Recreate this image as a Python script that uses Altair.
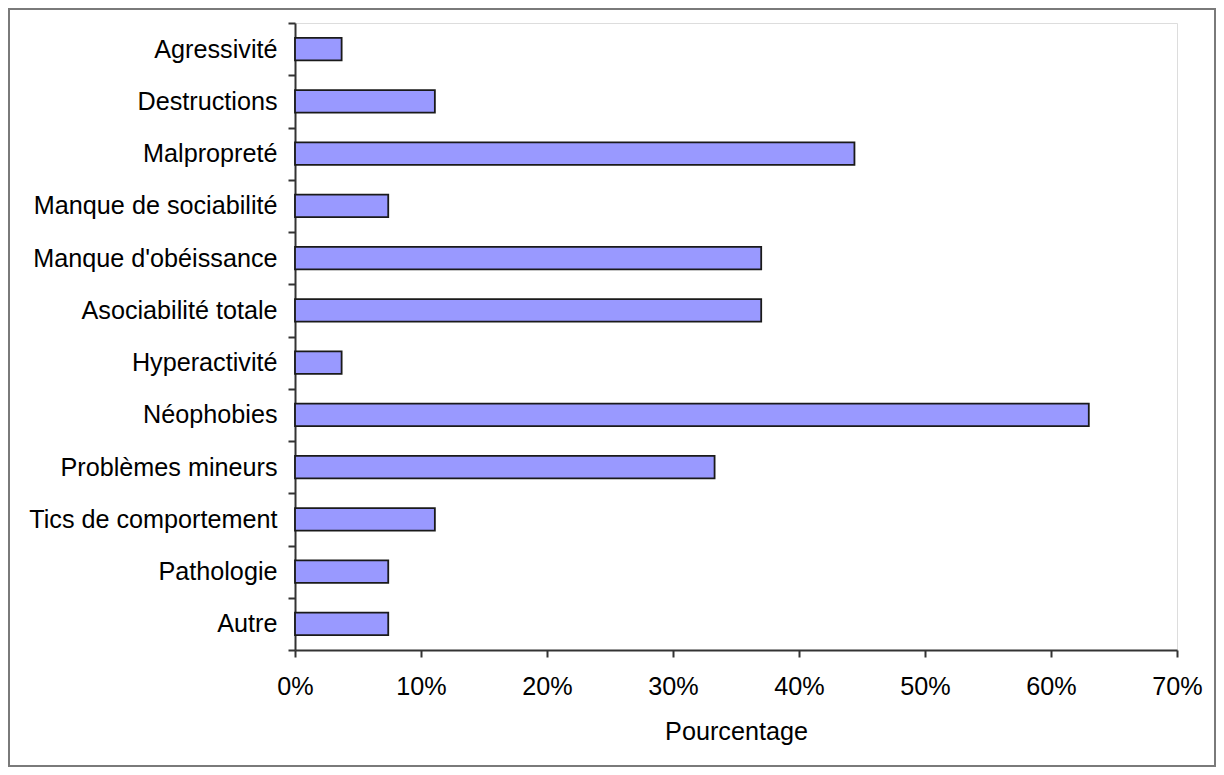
import altair as alt
import pandas as pd

categories = ["Agressivité", "Destructions", "Malpropreté", "Manque de sociabilité",
              "Manque d'obéissance", "Asociabilité totale", "Hyperactivité", "Néophobies",
              "Problèmes mineurs", "Tics de comportement", "Pathologie", "Autre"]
values = [0.037, 0.111, 0.444, 0.074, 0.370, 0.370, 0.037, 0.630, 0.333, 0.111, 0.074, 0.074]
x_ticks = [0, 0.1, 0.2, 0.3, 0.4, 0.5, 0.6, 0.7]

df = pd.DataFrame({"cat": categories, "val": values})

W, H = 882, 627
PL, PT, PR, PB = 287, 15, 39, 117
FONT = "Liberation Sans"
FS = 25.2

bars = alt.Chart(df).mark_bar(fill="#9999FF", stroke="#1a1a1a", strokeWidth=1.8,
                              height=alt.RelativeBandSize(band=0.43)).encode(
    y=alt.Y("cat:N", sort=None,
            scale=alt.Scale(paddingInner=0, paddingOuter=0),
            axis=alt.Axis(title=None, tickBand="extent", tickSize=7, labelPadding=11,
                          labelFontSize=FS, labelFont=FONT, labelColor="#000000",
                          domainColor="#333333", domainWidth=2, tickColor="#333333",
                          tickWidth=2, grid=False, labelLimit=400)),
    x=alt.X("val:Q", scale=alt.Scale(domain=[0, 0.7], nice=False),
            axis=alt.Axis(title="Pourcentage", format=".0%", values=x_ticks, tickSize=7,
                          labelPadding=17, labelFontSize=FS, labelFont=FONT,
                          labelColor="#000000", labelFlush=False,
                          titleFontSize=FS, titleFont=FONT, titleFontWeight="normal",
                          titleColor="#000000", titleBaseline="alphabetic", titleY=89,
                          domainColor="#333333", domainWidth=2, tickColor="#333333",
                          tickWidth=2, grid=False)),
)

frame = alt.Chart(alt.Data(values=[{"a": 1}])).mark_rect(
    fill=None, stroke="#7a7a7a", strokeWidth=2
).encode(
    x=alt.value(-PL + 1), x2=alt.value(W + PR - 1),
    y=alt.value(-PT + 1), y2=alt.value(H + PB - 1),
)

chart = alt.layer(frame, bars).properties(
    width=W, height=H,
    autosize=alt.AutoSizeParams(type="none"),
    padding={"left": PL, "top": PT, "right": PR, "bottom": PB},
).configure_view(stroke="#999999", strokeWidth=2).configure(background="white")

chart.save("out.html", embed_options={"renderer": "svg", "actions": False})
